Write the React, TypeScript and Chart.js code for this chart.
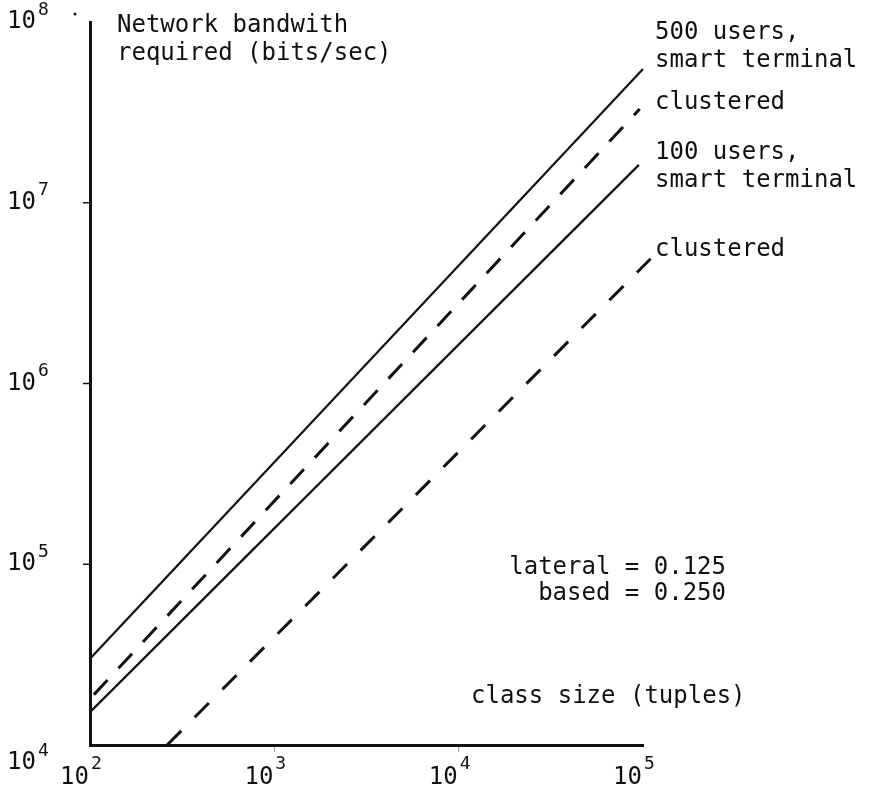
import { useEffect, useRef } from "react";
import { Chart, registerables } from "chart.js";

Chart.register(...registerables);

// ---- data ----
const xTickExponents = [2, 3, 4, 5];
const yTickExponents = [4, 5, 6, 7, 8];

const smart500X = [100, 100000];
const smart500Y = [30000, 55000000];
const clustered500X = [105, 96000];
const clustered500Y = [19000, 33000000];
const smart100X = [100, 95000];
const smart100Y = [15200, 16200000];
const clustered100X = [262, 110000];
const clustered100Y = [10000, 4900000];

const yAxisTitle = ["Network bandwith", "required (bits/sec)"];
const xAxisTitle = "class size (tuples)";
const smart500Label = ["500 users,", "smart terminal"];
const clustered500Label = ["clustered"];
const smart100Label = ["100 users,", "smart terminal"];
const clustered100Label = ["clustered"];
const noteLines = ["lateral = 0.125", "based = 0.250"];

const toPoints = (xs: number[], ys: number[]) => xs.map((x, i) => ({ x, y: ys[i] }));

const FONT = "'DejaVu Sans Mono', monospace";
const INK = "#111";

const annotationPlugin = {
  id: "annotations",
  afterDraw(chart: any) {
    const ctx = chart.ctx as CanvasRenderingContext2D;
    const xs = chart.scales.x;
    const ys = chart.scales.y;
    const area = chart.chartArea;
    ctx.save();
    ctx.fillStyle = INK;
    ctx.strokeStyle = INK;
    ctx.textBaseline = "middle";

    // y tick labels
    yTickExponents.forEach((e) => {
      const py = ys.getPixelForValue(Math.pow(10, e));
      const labelY = e === 4 ? py + 18 : py;
      ctx.font = `24px ${FONT}`;
      ctx.textAlign = "right";
      ctx.fillText("10", 36, labelY);
      ctx.font = `18px ${FONT}`;
      ctx.textAlign = "left";
      ctx.fillText(String(e), 38, labelY - 12);
      if (e > 4 && e < 8) {
        ctx.lineWidth = 1.5;
        ctx.beginPath();
        ctx.moveTo(area.left - 7, py);
        ctx.lineTo(area.left - 1, py);
        ctx.stroke();
      }
      if (e === 8) {
        ctx.beginPath();
        ctx.arc(area.left - 15, py - 8, 1.5, 0, Math.PI * 2);
        ctx.fill();
      }
    });

    // x tick labels
    xTickExponents.forEach((e) => {
      const px = xs.getPixelForValue(Math.pow(10, e));
      ctx.font = `24px ${FONT}`;
      ctx.textAlign = "right";
      ctx.fillText("10", px - 1, 778);
      ctx.font = `18px ${FONT}`;
      ctx.textAlign = "left";
      ctx.fillText(String(e), px + 1, 764);
      if (e > 2 && e < 5) {
        ctx.strokeStyle = "#999";
        ctx.lineWidth = 1;
        ctx.beginPath();
        ctx.moveTo(px, area.bottom + 2);
        ctx.lineTo(px, area.bottom + 7);
        ctx.stroke();
        ctx.strokeStyle = INK;
      }
    });

    // texts
    ctx.font = `24px ${FONT}`;
    ctx.textAlign = "left";
    const lines = (arr: string[], x: number, y: number, lh: number) =>
      arr.forEach((t, i) => ctx.fillText(t, x, y + i * lh));
    lines(yAxisTitle, 117, 26, 28);
    lines(smart500Label, 655, 33, 28);
    lines(clustered500Label, 655, 103, 28);
    lines(smart100Label, 655, 153, 28);
    lines(clustered100Label, 655, 250, 28);
    ctx.fillText(xAxisTitle, 471, 697);
    ctx.textAlign = "right";
    lines(noteLines, 726, 568, 26);

    ctx.restore();
  },
};

export default function App() {
  const canvasRef = useRef<HTMLCanvasElement | null>(null);

  useEffect(() => {
    const canvas = canvasRef.current;
    if (!canvas) return;
    const chart = new Chart(canvas, {
      type: "line",
      data: {
        datasets: [
          {
            label: "500 users, smart terminal",
            data: toPoints(smart500X, smart500Y),
            borderColor: INK,
            borderWidth: 2.2,
            pointRadius: 0,
            clip: false as any,
          },
          {
            label: "500 users, clustered",
            data: toPoints(clustered500X, clustered500Y),
            borderColor: INK,
            borderWidth: 3,
            borderDash: [20, 16],
            pointRadius: 0,
            clip: false as any,
          },
          {
            label: "100 users, smart terminal",
            data: toPoints(smart100X, smart100Y),
            borderColor: INK,
            borderWidth: 2.2,
            pointRadius: 0,
            clip: false as any,
          },
          {
            label: "100 users, clustered",
            data: toPoints(clustered100X, clustered100Y),
            borderColor: INK,
            borderWidth: 3,
            borderDash: [20, 19.2],
            pointRadius: 0,
            clip: false as any,
          },
        ],
      },
      options: {
        animation: false,
        responsive: false,
        devicePixelRatio: 1,
        layout: { padding: { left: 90, right: 231, top: 22, bottom: 50 } },
        plugins: { legend: { display: false }, tooltip: { enabled: false } },
        scales: {
          x: {
            type: "logarithmic",
            min: 100,
            max: 100000,
            grid: { display: false, drawTicks: false },
            ticks: { display: false },
            border: { display: true, width: 3, color: INK },
          },
          y: {
            type: "logarithmic",
            min: 10000,
            max: 100000000,
            grid: { display: false, drawTicks: false },
            ticks: { display: false },
            border: { display: true, width: 3, color: INK },
          },
        },
      },
      plugins: [annotationPlugin],
    });
    return () => chart.destroy();
  }, []);

  return (
    <div style={{ position: "absolute", left: 0, top: 0, width: 874, height: 795, background: "#fff" }}>
      <canvas ref={canvasRef} width={874} height={795} style={{ width: 874, height: 795, display: "block" }} />
    </div>
  );
}
